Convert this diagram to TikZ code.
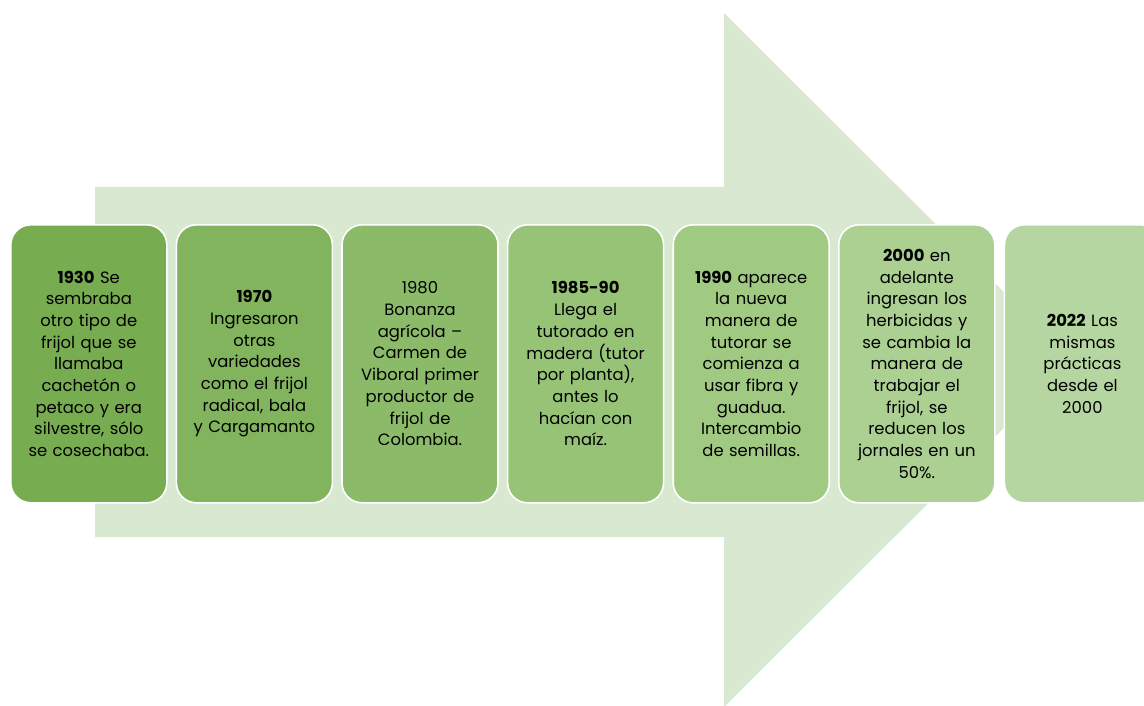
\documentclass[tikz,border=0pt]{standalone}
\usepackage{fontspec}
\setmainfont{Poppins}
\definecolor{arrowc}{RGB}{217,232,208}
\definecolor{c1}{RGB}{119,172,80}
\definecolor{c2}{RGB}{129,180,92}
\definecolor{c3}{RGB}{139,187,105}
\definecolor{c4}{RGB}{150,195,118}
\definecolor{c5}{RGB}{160,201,130}
\definecolor{c6}{RGB}{171,208,146}
\definecolor{c7}{RGB}{181,214,160}
\begin{document}
\begin{tikzpicture}[x=1pt,y=-1pt,
  card/.style={draw=white,line width=1.6pt,rounded corners=20pt,minimum width=156pt,minimum height=278pt,
    align=center,text width=152pt,font=\fontsize{16.4}{21.7}\selectfont,inner sep=0pt,anchor=north west,text=black}]
\useasboundingbox (0,0) rectangle (1144,706);
\begin{scope}
\clip (0,0) rectangle (1144,706);
\fill[arrowc] (95,187) -- (724,187) -- (724,13) -- (1072,360) -- (724,707) -- (724,537) -- (95,537) -- cycle;
\node[card,fill=c1] (b1) at (10,224) {\textbf{1930} Se\\sembraba\\otro tipo de\\frijol que se\\llamaba\\cachetón o\\petaco y era\\silvestre, sólo\\se cosechaba.};
\node[card,fill=c2] (b2) at (175.6,224) {\textbf{1970}\\Ingresaron\\otras\\variedades\\como el frijol\\radical, bala\\y Cargamanto};
\node[card,fill=c3] (b3) at (341.2,224) {1980\\Bonanza\\agrícola –\\Carmen de\\Viboral primer\\productor de\\frijol de\\Colombia.};
\node[card,fill=c4] (b4) at (506.8,224) {\textbf{1985-90}\\Llega el\\tutorado en\\madera (tutor\\por planta),\\antes lo\\hacían con\\maíz.};
\node[card,fill=c5] (b5) at (672.4,224) {\textbf{1990} aparece\\la nueva\\manera de\\tutorar se\\comienza a\\usar fibra y\\guadua.\\Intercambio\\de semillas.};
\node[card,fill=c6] (b6) at (838,224) {\textbf{2000} en\\adelante\\ingresan los\\herbicidas y\\se cambia la\\manera de\\trabajar el\\frijol, se\\reducen los\\jornales en un\\50\%.};
\node[card,fill=c7] (b7) at (1003.6,224) {\textbf{2022} Las\\mismas\\prácticas\\desde el\\2000};
\end{scope}
\end{tikzpicture}
\end{document}
